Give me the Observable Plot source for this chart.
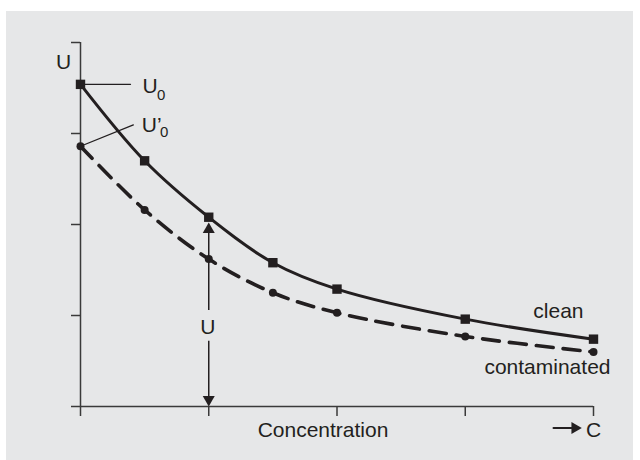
<!DOCTYPE html>
<html>
<head>
<meta charset="utf-8">
<script src="https://cdn.jsdelivr.net/npm/d3@7"></script>
<script src="https://cdn.jsdelivr.net/npm/@observablehq/plot@0.6"></script>
<style>
  html, body { margin: 0; padding: 0; background: #ffffff; }
  #panel { position: absolute; left: 6px; top: 11px; width: 627px; height: 449px; background: #e6e7e8; }
  #chart { position: absolute; left: 0; top: 0; width: 640px; height: 460px; }
</style>
</head>
<body>
<div id="panel"></div>
<div id="chart"></div>
<script>
// ---- data ----
const concentration = [0, 0.5, 1, 1.5, 2, 3, 4];
const clean        = [3.54, 2.70, 2.08, 1.58, 1.29, 0.96, 0.74];
const contaminated = [2.86, 2.16, 1.62, 1.25, 1.03, 0.77, 0.60];
const xTicks = [0, 1, 2, 3, 4];
const yTicks = [0, 1, 2, 3, 4];
const seriesLabels = ["clean", "contaminated"];
const axisLabelY = "U";
const axisLabelX = "Concentration";
const axisArrowLabel = "C";
const u0Label = ["U", "0"];
const u0pLabel = ["U\u2019", "0"];
const uArrowLabel = "U";

const ink = "#231f20";
const axisInk = "#3a3a3a";
const fs = 21;

const cleanData = concentration.map((c, i) => ({c, u: clean[i]}));
const contData = concentration.map((c, i) => ({c, u: contaminated[i]}));
const last = concentration.length - 1;
const uArrowX = concentration[2];

const plot = Plot.plot({
  width: 640,
  height: 460,
  marginLeft: 80,
  marginRight: 47,
  marginTop: 42,
  marginBottom: 54,
  style: {background: "transparent", fontFamily: "'Liberation Sans', Arial, sans-serif", overflow: "visible"},
  x: {domain: [0, 4], axis: null},
  y: {domain: [0, 4], axis: null},
  marks: [
    // axes
    Plot.ruleX([0], {y1: 0, y2: 4, stroke: axisInk, strokeWidth: 1.5}),
    Plot.ruleY([0], {x1: 0, x2: 4, stroke: axisInk, strokeWidth: 1.5}),
    Plot.axisX(xTicks, {tickSize: 10, tickFormat: () => "", label: null, stroke: axisInk, strokeWidth: 1.5}),
    Plot.axisY(yTicks, {tickSize: 9, tickFormat: () => "", label: null, stroke: axisInk, strokeWidth: 1.5}),

    // series lines
    Plot.line(contData, {x: "c", y: "u", curve: "catmull-rom", stroke: ink, strokeWidth: 3.6, strokeDasharray: "17,10"}),
    Plot.line(cleanData, {x: "c", y: "u", curve: "catmull-rom", stroke: ink, strokeWidth: 3}),
    Plot.dot(contData, {x: "c", y: "u", r: 4, fill: ink, stroke: "none"}),
    Plot.dot(cleanData, {x: "c", y: "u", symbol: "square", r: 5.3, fill: ink, stroke: "none"}),

    // series labels
    Plot.text([seriesLabels[0]], {x: concentration[last], y: clean[last], text: d => d, textAnchor: "end", dx: -10, dy: -28, fontSize: fs, fill: ink}),
    Plot.text([seriesLabels[1]], {x: concentration[last], y: contaminated[last], text: d => d, textAnchor: "end", dx: 17, dy: 15.6, fontSize: fs, fill: ink}),

    // axis labels
    Plot.text([axisLabelY], {x: 0, y: 4, text: d => d, dx: -17, dy: 20, fontSize: fs, fill: ink}),
    Plot.text([axisLabelX], {x: 2, y: 0, text: d => d, dx: -14, dy: 23.6, fontSize: fs, fill: ink}),
    Plot.text([axisArrowLabel], {x: 4, y: 0, text: d => d, dx: 0, dy: 23.6, fontSize: fs, fill: ink}),
    Plot.vector([0], {x: 4, y: 0, anchor: "start", rotate: 90, length: 18, r: 0, dx: -40, dy: 21.6, stroke: ink, strokeWidth: 2}),
    Plot.dot([0], {x: 4, y: 0, symbol: "triangle", rotate: 90, r: 4.45, dx: -18.6, dy: 21.6, fill: ink, stroke: "none"}),

    // U0 annotation
    Plot.vector([0], {x: 0, y: clean[0], anchor: "start", rotate: 90, length: 50, r: 0, stroke: ink, strokeWidth: 1.3}),
    Plot.text([u0Label[0]], {x: 0, y: clean[0], text: d => d, textAnchor: "start", dx: 62, dy: 2.3, fontSize: fs, fill: ink}),
    Plot.text([u0Label[1]], {x: 0, y: clean[0], text: d => d, textAnchor: "start", dx: 76.6, dy: 10.4, fontSize: 15, fill: ink}),

    // U'0 annotation
    Plot.vector([0], {x: 0, y: contaminated[0], anchor: "start", rotate: 68, length: 57, r: 0, stroke: ink, strokeWidth: 1.3}),
    Plot.text([u0pLabel[0]], {x: 0, y: contaminated[0], text: d => d, textAnchor: "start", dx: 61.3, dy: -21, fontSize: fs, fill: ink}),
    Plot.text([u0pLabel[1]], {x: 0, y: contaminated[0], text: d => d, textAnchor: "start", dx: 79.6, dy: -14.3, fontSize: 15, fill: ink}),

    // vertical U double arrow
    Plot.ruleX([uArrowX], {y1: clean[2], y2: 0, insetTop: 8, insetBottom: 96, stroke: ink, strokeWidth: 1.5}),
    Plot.ruleX([uArrowX], {y1: clean[2], y2: 0, insetTop: 124, insetBottom: 6, stroke: ink, strokeWidth: 1.5}),
    Plot.dot([0], {x: uArrowX, y: clean[2], symbol: "triangle", r: 4.45, dy: 12.3, fill: ink, stroke: "none"}),
    Plot.dot([0], {x: uArrowX, y: 0, symbol: "triangle", rotate: 180, r: 4.45, dy: -7, fill: ink, stroke: "none"}),
    Plot.text([uArrowLabel], {x: uArrowX, y: 0, text: d => d, dx: -1, dy: -79.4, fontSize: fs, fill: ink})
  ]
});
document.getElementById("chart").appendChild(plot);
</script>
</body>
</html>
